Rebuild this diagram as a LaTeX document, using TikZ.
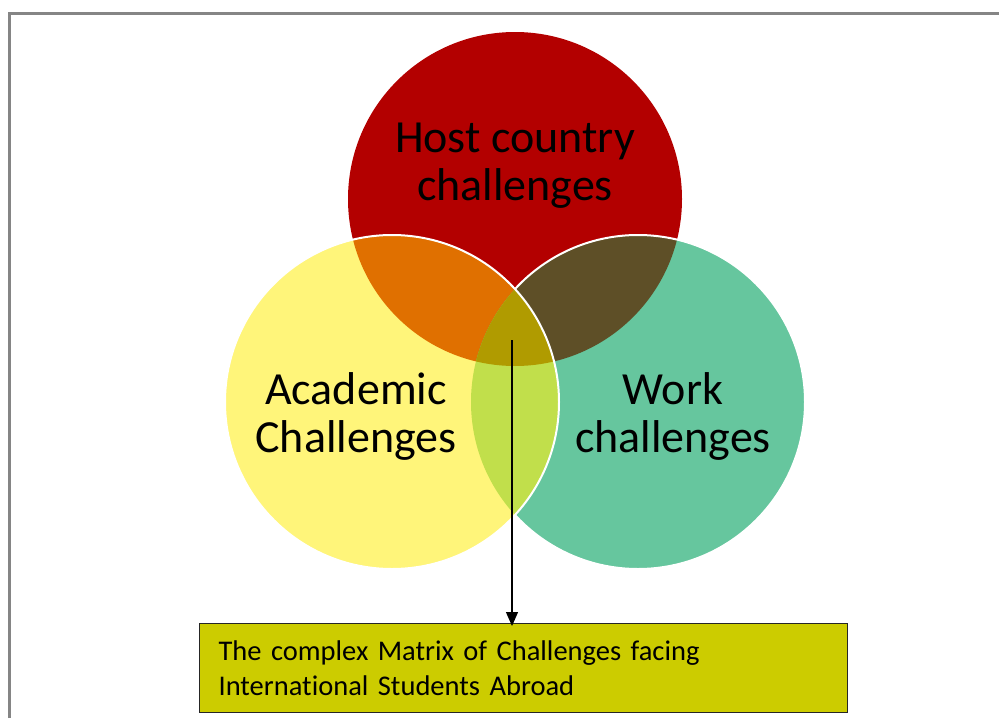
\documentclass[tikz,border=0pt]{standalone}
\usepackage{fontspec}
\setmainfont{Carlito}[Ligatures={NoCommon}]
\usetikzlibrary{arrows.meta}
\definecolor{hostred}{HTML}{B30000}
\definecolor{acadyellow}{HTML}{FFF57A}
\definecolor{workgreen}{HTML}{66C69E}
\definecolor{hostacad}{HTML}{E07000}
\definecolor{hostwork}{HTML}{5E4F27}
\definecolor{acadwork}{HTML}{C1DF4B}
\definecolor{allthree}{HTML}{B09B00}
\definecolor{boxfill}{HTML}{CCCC00}
\definecolor{framegray}{HTML}{858585}
\tikzset{
  bigtext/.style={font=\fontsize{46}{48}\selectfont, align=center, inner sep=0pt, text=black},
  outline/.style={draw=white, line width=2pt},
  notebox/.style={draw=black!85, line width=1.2pt, fill=boxfill, inner xsep=19pt, inner ysep=0pt,
    minimum width=648pt, minimum height=89pt, text width=610pt, align=left,
    font=\fontsize{28.5}{35}\selectfont},
  pointer/.style={line width=1.2pt, -{Triangle[length=14pt,width=12pt]}}
}
\begin{document}
\begin{tikzpicture}[x=1pt,y=-1pt]
\useasboundingbox (0,0) rectangle (999,718);
% page frame
\draw[framegray, line width=2.6pt] (9.5,718) -- (9.5,13.5) -- (999,13.5);

% circle centres
\coordinate (H) at (515,199);
\coordinate (A) at (392,402);
\coordinate (W) at (638,402);
\def\R{167pt}

% plain circles
\fill[hostred] (H) circle (\R);
\fill[workgreen] (W) circle (\R);
\fill[acadyellow] (A) circle (\R);

% pairwise overlaps
\begin{scope}
  \clip (H) circle (\R);
  \fill[hostacad] (A) circle (\R);
  \fill[hostwork] (W) circle (\R);
\end{scope}
\begin{scope}
  \clip (A) circle (\R);
  \fill[acadwork] (W) circle (\R);
\end{scope}
% triple overlap
\begin{scope}
  \clip (H) circle (\R);
  \clip (A) circle (\R);
  \fill[allthree] (W) circle (\R);
\end{scope}

% white rims
\begin{scope}[even odd rule]
  \clip (0,0) rectangle (999,718) (A) circle (\R);
  \draw[outline] (W) circle (\R);
\end{scope}
\draw[outline] (A) circle (\R);

% labels
\node[bigtext] (host) at (515,166) {Host country\\challenges};
\node[bigtext] (acad) at (356,416) {Academic\\Challenges};
\node[bigtext] (work) at (673,416) {Work\\challenges};

% caption box and pointer
\node[notebox, anchor=north west] (note) at (199,623)
  {The complex Matrix of Challenges facing\\International Students Abroad};
\coordinate (hub) at (512,340);
\draw[pointer] (hub) -- ([yshift=-3pt]hub |- note.north);
\end{tikzpicture}
\end{document}
